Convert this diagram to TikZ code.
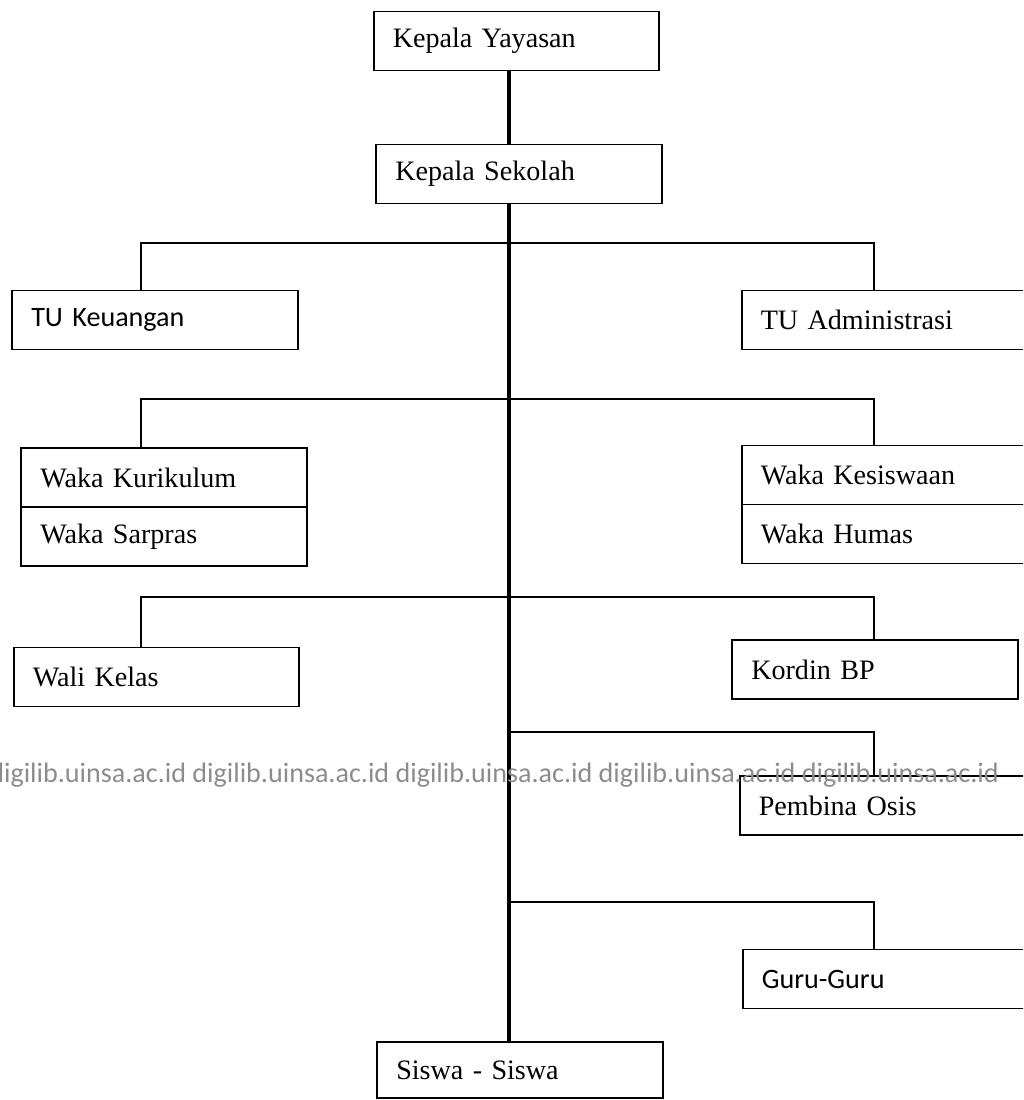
\documentclass[tikz,border=0pt]{standalone}
\usepackage{fontspec}
\setmainfont{Liberation Serif}
\newfontfamily\calibrilike{Carlito}
\usetikzlibrary{positioning}

\begin{document}
\begin{tikzpicture}[
    unit/.style={draw, line width=1.1pt, text width=4.95cm, inner xsep=0.38cm, inner ysep=0pt, minimum height=1.18cm, align=left, font=\fontsize{16}{19}\selectfont},
    sansunit/.style={unit, font=\calibrilike\fontsize{16}{19}\selectfont},
    link/.style={line width=1.1pt},
    spineline/.style={line width=2pt},
    watermark/.style={anchor=west, inner sep=0pt, text=black!45, font=\calibrilike\fontsize{16}{19}\selectfont}
]
\useasboundingbox (0,0) rectangle (20.46,-22);
\clip (0,0) rectangle (20.46,-22);

\coordinate (spine) at (10.18,0);
\coordinate (leftdrop) at (2.82,0);
\coordinate (rightdrop) at (17.48,0);
\coordinate (lvl1) at (10.18,-4.86);
\coordinate (lvl2) at (10.18,-7.98);
\coordinate (lvl3) at (10.18,-11.94);
\coordinate (lvl4) at (10.18,-14.64);
\coordinate (lvl5) at (10.18,-18.04);

\node[unit] (yayasan) at (10.33,-0.82) {Kepala Yayasan};
\node[unit] (sekolah) at (10.38,-3.48) {Kepala Sekolah};
\node[sansunit] (keuangan) at (3.10,-6.40) {TU Keuangan};
\node[unit] (admin) at (17.69,-6.40) {TU Administrasi};
\node[unit] (kurikulum) at (3.28,-9.55) {Waka Kurikulum};
\node[unit, below=-1.1pt of kurikulum] (sarpras) {Waka Sarpras};
\node[unit] (kesiswaan) at (17.69,-9.50) {Waka Kesiswaan};
\node[unit, below=-1.1pt of kesiswaan] (humas) {Waka Humas};
\node[unit] (walikelas) at (3.13,-13.54) {Wali Kelas};
\node[unit] (kordin) at (17.50,-13.39) {Kordin BP};
\node[unit] (pembina) at (17.65,-16.11) {Pembina Osis};
\node[sansunit] (guru) at (17.71,-19.58) {Guru-Guru};
\node[unit, minimum height=1.12cm] (siswa) at (10.40,-21.40) {Siswa - Siswa};

\draw[spineline] (yayasan.south -| spine) -- (sekolah.north -| spine);
\draw[spineline] (sekolah.south -| spine) -- (siswa.north -| spine);
\draw[link] (keuangan.north -| leftdrop) |- (lvl1) -| (admin.north -| rightdrop);
\draw[link] (kurikulum.north -| leftdrop) |- (lvl2) -| (kesiswaan.north -| rightdrop);
\draw[link] (walikelas.north -| leftdrop) |- (lvl3) -| (kordin.north -| rightdrop);
\draw[link] (lvl4) -| (pembina.north -| rightdrop);
\draw[link] (lvl5) -| (guru.north -| rightdrop);

\node[watermark] (mark) at (-0.22,-15.50) {digilib.uinsa.ac.id digilib.uinsa.ac.id digilib.uinsa.ac.id digilib.uinsa.ac.id digilib.uinsa.ac.id};
\end{tikzpicture}
\end{document}
